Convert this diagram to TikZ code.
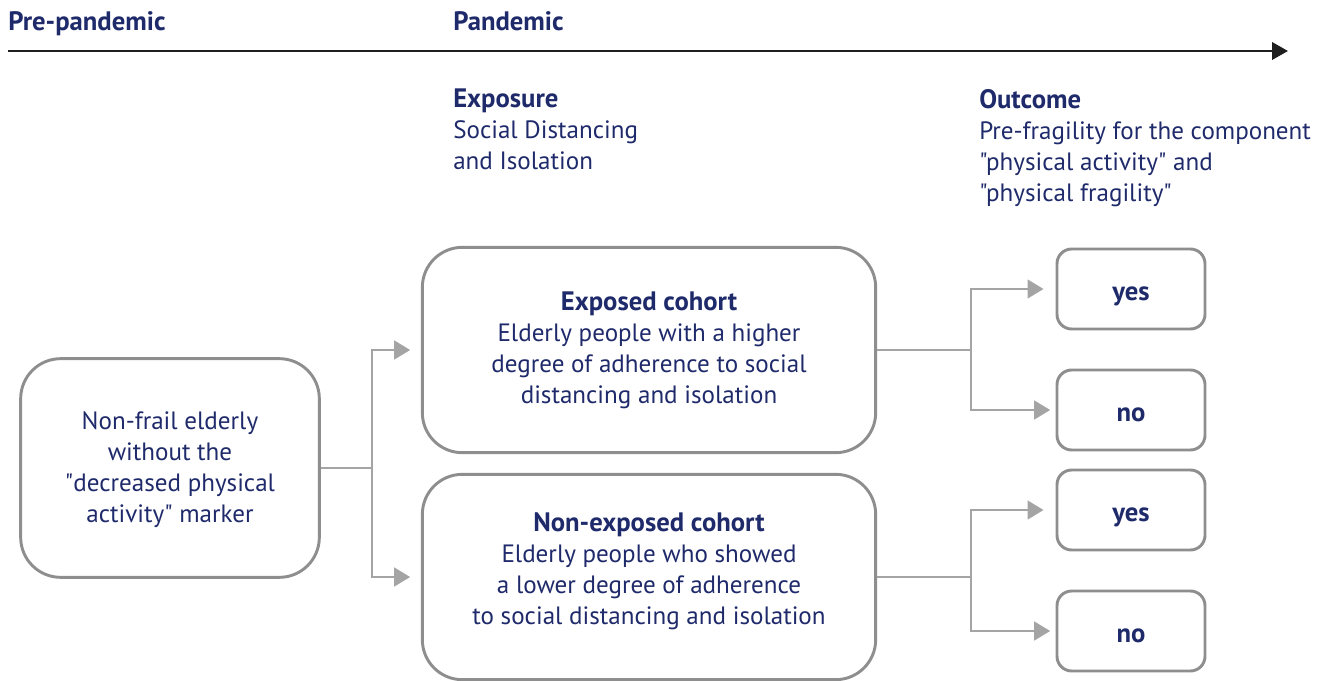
\documentclass[tikz,border=0pt]{standalone}
\usepackage{fontspec}
\setmainfont{PT Sans}[Ligatures=TeXOff]
\usetikzlibrary{arrows.meta,positioning}
\definecolor{navy}{HTML}{1F2A6B}
\definecolor{boxgray}{HTML}{8E8E8E}
\definecolor{flowgray}{HTML}{A4A4A4}
\newcommand{\hd}[1]{{\fontsize{20}{23.25}\selectfont\bfseries #1}}

\begin{document}
\begin{tikzpicture}[x=0.75pt,y=-0.75pt,
  txt/.style={font=\fontsize{18.8}{23.25}\selectfont,text=navy,inner sep=0pt},
  phase/.style={txt,font=\fontsize{20}{23.25}\selectfont\bfseries,anchor=base west},
  head/.style={txt,align=left,anchor=north west},
  cohort/.style={txt,draw=boxgray,line width=2.2pt,rounded corners=30pt,align=center,
    minimum width=340pt,minimum height=154pt},
  answer/.style={txt,font=\fontsize{20}{23.25}\selectfont\bfseries,draw=boxgray,line width=2.2pt,
    rounded corners=11pt,minimum width=111pt,minimum height=60pt,text height=17pt,text depth=0pt},
  flow/.style={draw=flowgray,line width=1.8pt,-{Triangle[length=12pt,width=14pt]}},
]
\useasboundingbox (0,0) rectangle (1330,681);

% time line
\node[phase] (pre) at (8,31) {Pre-pandemic};
\node[phase] (pan) at (453,31) {Pandemic};
\coordinate (tstart) at (8,51);
\coordinate (tend) at (1288,51);
\draw[line width=2pt,black!88,-{Triangle[length=12pt,width=13pt]}] (tstart) -- (tend);

\node[head] (expo) at (453,89) {\hd{Exposure}\\Social Distancing\\and Isolation};
\node[head] (outc) at (979,89) {\hd{Outcome}\\Pre-fragility for the component\\
  "physical activity" and\\"physical fragility"};

% boxes
\node[cohort,minimum width=224pt,minimum height=164pt,text depth=1pt] (base) at (170,468)
  {Non-frail elderly\\without the\\"decreased physical\\activity" marker};
\node[cohort] (exp) at (649,350)
  {\hd{Exposed cohort}\\Elderly people with a higher\\degree of adherence to social\\distancing and isolation};
\node[cohort,text depth=13pt] (nonexp) at (649,577)
  {\hd{Non-exposed cohort}\\Elderly people who showed\\a lower degree of adherence\\to social distancing and isolation};

\node[answer] (yesA) at (1131,289) {yes};
\node[answer] (noA) at (1131,410) {no};
\node[answer] (yesB) at (1131,510) {yes};
\node[answer] (noB) at (1131,631) {no};

% connectors
\draw[draw=flowgray,line width=1.8pt] (base.east) -- ++(51,0) coordinate (j0);
\draw[flow,shorten >=8pt] (j0) |- (exp.west);
\draw[flow,shorten >=8pt] (j0) |- (nonexp.west);
\draw[draw=flowgray,line width=1.8pt] (exp.east) -- ++(94,0) coordinate (j1);
\draw[flow,shorten >=9pt] (j1) |- (yesA.west);
\draw[flow,shorten >=4pt] (j1) |- (noA.west);
\draw[draw=flowgray,line width=1.8pt] (nonexp.east) -- ++(94,0) coordinate (j2);
\draw[flow,shorten >=9pt] (j2) |- (yesB.west);
\draw[flow,shorten >=4pt] (j2) |- (noB.west);
\end{tikzpicture}
\end{document}
